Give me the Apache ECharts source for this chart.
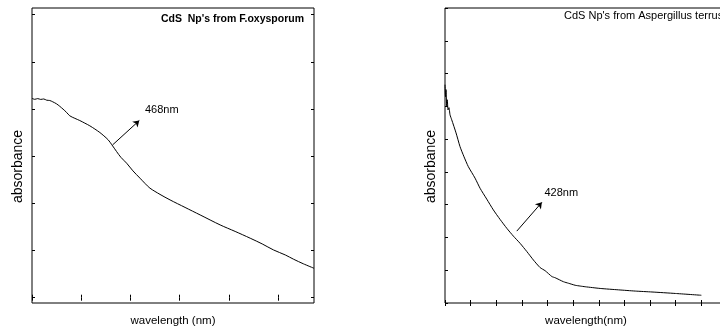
<!DOCTYPE html>
<html>
<head>
<meta charset="utf-8">
<script src="https://cdn.jsdelivr.net/npm/echarts@6/dist/echarts.min.js"></script>
<style>
html,body{margin:0;padding:0;background:#fff}
#main{width:720px;height:334px}
</style>
</head>
<body>
<div id="main"></div>
<script>
// CdS from F.oxysporum (left panel)
const leftWave = [300, 305.5, 311.6, 317.7, 323.8, 329.9, 336, 342.2, 349.7, 356.4, 363.1, 370.1, 376.8, 387, 397.1, 407.3,
  417.5, 427.7, 437.9, 446, 454.8, 462.3, 471.9, 480.7, 492.3, 505.1, 519.4, 529.5, 539.7, 560.1, 580.5, 611,
  641.6, 682.3, 712.8, 743.4, 767.8, 790.8, 814.7, 831.6, 851.3, 873];
const leftAbs = [0.4227, 0.4206, 0.4221, 0.4204, 0.4213, 0.4187, 0.4181, 0.4153, 0.4111, 0.4058, 0.3998, 0.393, 0.3856, 0.3803, 0.3756, 0.3701,
  0.3644, 0.3576, 0.3502, 0.3432, 0.3347, 0.3241, 0.3098, 0.2975, 0.2852, 0.2689, 0.2534, 0.2424, 0.2322, 0.219, 0.2073, 0.1914,
  0.1755, 0.1543, 0.1405, 0.1261, 0.114, 0.1012, 0.0906, 0.0815, 0.0719, 0.0624];

// CdS from Aspergillus terrus (right panel)
const rightWave = [300, 301, 302, 303.3, 304.5, 305.9, 307.8, 309.8, 313.1, 321.5, 329.3, 337.1, 345.5, 358.6, 368.4, 381.4,
  394.3, 407.4, 420.5, 433.4, 446.5, 459.6, 472.5, 485.5, 495.3, 508.4, 514.8, 531.1, 540.8, 553.9, 563.7, 573.4,
  602.7, 638.5, 671.1, 703.7, 749.2, 800];
const rightAbs = [0.666, 0.629, 0.651, 0.6, 0.62, 0.589, 0.596, 0.574, 0.559, 0.519, 0.477, 0.446, 0.416, 0.381, 0.35, 0.317,
  0.284, 0.255, 0.228, 0.204, 0.182, 0.157, 0.131, 0.108, 0.0985, 0.0808, 0.0771, 0.0649, 0.0603, 0.0541, 0.0517, 0.0496,
  0.0444, 0.0401, 0.0364, 0.0336, 0.0291, 0.0236];

const leftTicksX = [300, 400, 500, 600, 700, 800];
const leftTicksY = [0, 0.1, 0.2, 0.3, 0.4, 0.5, 0.6];

// peak arrows [x0, y0, x1, y1] and label anchors
const leftArrow = [463.8, 0.324, 518, 0.3756];
const rightArrow = [440, 0.2193, 488.9, 0.307];
const leftPeakText = '468nm';
const leftPeakAt = [529.5, 0.398];
const rightPeakText = '428nm';
const rightPeakAt = [494, 0.3365];

const FONT = '"Liberation Sans", Arial, sans-serif';
const pairs = (xs, ys) => xs.map((x, i) => [x, ys[i]]);

function boxAxis(extra) {
  return Object.assign({
    type: 'value',
    axisLine: {show: false},
    axisTick: {inside: true, length: 3, lineStyle: {color: '#000', width: 1}},
    axisLabel: {show: false},
    splitLine: {show: false}
  }, extra);
}

function arrow(a) {
  return {
    silent: true,
    symbol: ['none', 'arrow'],
    symbolSize: 6,
    lineStyle: {color: '#000', width: 1, type: 'solid'},
    label: {show: false},
    data: [[{coord: [a[0], a[1]]}, {coord: [a[2], a[3]]}]]
  };
}

function peakLabel(text, at) {
  return {
    silent: true,
    symbol: 'circle',
    symbolSize: 0,
    label: {show: true, position: 'right', distance: 0, formatter: text, color: '#000', fontFamily: FONT, fontSize: 11},
    data: [{coord: at}]
  };
}

var myChart = echarts.init(document.getElementById('main'));
const nameStyleX = {color: '#000', fontFamily: FONT, fontSize: 11.5};
const nameStyleY = {color: '#000', fontFamily: FONT, fontSize: 14, padding: [0, 22, 0, 0]};

const option = {
  animation: false,
  backgroundColor: '#fff',
  title: [
    {text: "CdS  Np's from F.oxysporum", right: 416, top: 14, padding: 0,
      textStyle: {fontFamily: FONT, fontWeight: 'bold', fontSize: 10.5, color: '#000'}},
    {text: "CdS Np's from Aspergillus terrus", left: 564, top: 10, padding: 0,
      textStyle: {fontFamily: FONT, fontWeight: 'normal', fontSize: 11, color: '#000'}}
  ],
  grid: [
    {left: 32, top: 8, width: 282, height: 295, show: true, borderColor: '#000', borderWidth: 1, outerBoundsMode: 'none'},
    {left: 445, top: 8, width: 282, height: 295, show: true, borderColor: '#000', borderWidth: 1, outerBoundsMode: 'none'}
  ],
  xAxis: [
    boxAxis({gridIndex: 0, min: 300, max: 873,
      axisTick: {inside: true, length: 3, lineStyle: {color: '#000'}, customValues: leftTicksX},
      name: 'wavelength (nm)', nameLocation: 'middle', nameGap: 12, nameTextStyle: nameStyleX}),
    boxAxis({gridIndex: 0, position: 'top', min: 300, max: 873,
      axisTick: {inside: true, length: 3, lineStyle: {color: '#000'}, customValues: leftTicksX}}),
    boxAxis({gridIndex: 1, min: 300, max: 850, interval: 50,
      name: 'wavelength(nm)', nameLocation: 'middle', nameGap: 12, nameTextStyle: nameStyleX}),
    boxAxis({gridIndex: 1, position: 'top', min: 300, max: 850, interval: 50})
  ],
  yAxis: [
    boxAxis({gridIndex: 0, min: -0.01125, max: 0.6142,
      axisTick: {inside: true, length: 3, lineStyle: {color: '#000'}, customValues: leftTicksY},
      name: 'absorbance', nameLocation: 'middle', nameGap: 7, nameTextStyle: nameStyleY}),
    boxAxis({gridIndex: 0, position: 'right', min: -0.01125, max: 0.6142,
      axisTick: {inside: true, length: 3, lineStyle: {color: '#000'}, customValues: leftTicksY}}),
    boxAxis({gridIndex: 1, min: 0, max: 0.9, interval: 0.1,
      name: 'absorbance', nameLocation: 'middle', nameGap: 7, nameTextStyle: nameStyleY}),
    boxAxis({gridIndex: 1, position: 'right', min: 0, max: 0.9, interval: 0.1})
  ],
  series: [
    {
      type: 'line', xAxisIndex: 0, yAxisIndex: 0,
      data: pairs(leftWave, leftAbs),
      showSymbol: false,
      smooth: 0.3,
      lineStyle: {color: '#000', width: 1},
      markLine: arrow(leftArrow),
      markPoint: peakLabel(leftPeakText, leftPeakAt)
    },
    {
      type: 'line', xAxisIndex: 2, yAxisIndex: 2,
      data: pairs(rightWave, rightAbs),
      showSymbol: false,
      smooth: 0.2,
      lineStyle: {color: '#000', width: 1},
      markLine: arrow(rightArrow),
      markPoint: peakLabel(rightPeakText, rightPeakAt)
    }
  ]
};
myChart.setOption(option);
</script>
</body>
</html>
